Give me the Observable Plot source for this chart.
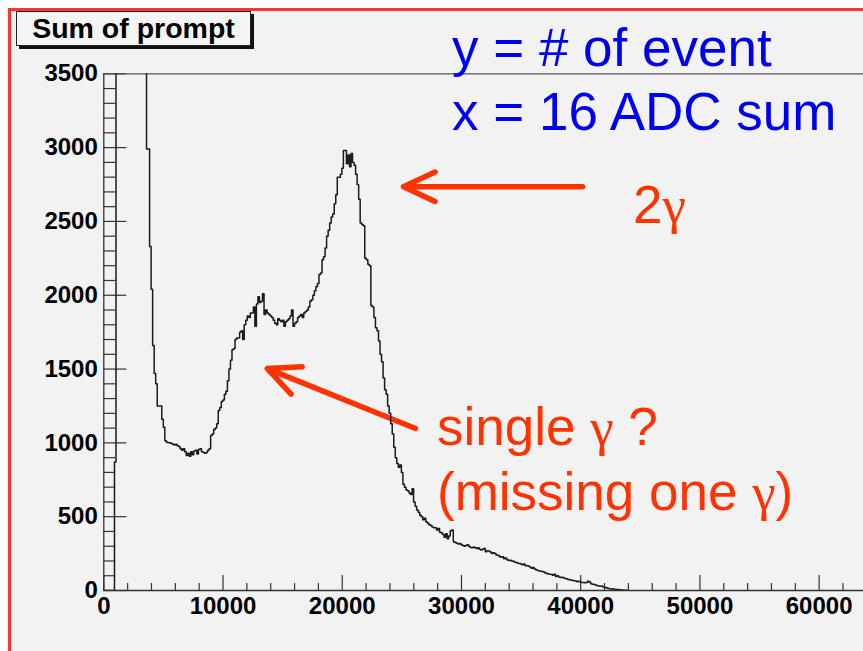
<!DOCTYPE html>
<html>
<head>
<meta charset="utf-8">
<script src="https://cdn.jsdelivr.net/npm/d3@7"></script>
<script src="https://cdn.jsdelivr.net/npm/@observablehq/plot@0.6"></script>
<style>
  html, body { margin: 0; padding: 0; background: #fff; overflow: hidden; }
  #page { position: relative; width: 863px; height: 651px; overflow: hidden; background: #fff; }
  #pad { position: absolute; left: 8px; top: 8px; width: 900px; height: 700px;
         background: #f2f2f2; border-left: 3px solid #ff3333; border-top: 3px solid #ff3333; }
  #chart { position: absolute; left: 0; top: 0; }
  #title { position: absolute; left: 16px; top: 11px; width: 233px; height: 33px;
           border: 1px solid #222; background: #f4f4f4; box-shadow: 3px 3px 0 #111;
           font: bold 28.5px "Liberation Sans", Arial, sans-serif; color: #000;
           display: flex; align-items: center; justify-content: center; line-height: 33px; }
  .note { position: absolute; white-space: nowrap; font-family: "Liberation Sans", Arial, sans-serif;
          font-size: 53px; line-height: 53px; }
  .blue { color: #0000f0; }
  .red { color: #ff3300; }
  .g { font-family: "Liberation Serif", "DejaVu Serif", serif; }
</style>
</head>
<body>
<div id="page">
  <div id="pad"></div>
  <div id="chart"></div>
  <div id="title">Sum of prompt</div>
  <div class="note blue" style="left:452px; top:21px;">y = # of event</div>
  <div class="note blue" style="left:452px; top:85px;">x = 16 ADC sum</div>
  <div class="note red" style="left:633px; top:178px;">2<span class="g">γ</span></div>
  <div class="note red" style="left:437px; top:400px;">single <span class="g">γ</span> ?</div>
  <div class="note red" style="left:437px; top:465px;">(missing one <span class="g">γ</span>)</div>
</div>
<script>
// Histogram "Sum of prompt": counts per 128-wide bin of the 16-channel ADC sum, starting at 0.
const binWidth = 128;
const counts = [
  0, 0, 0, 0, 0, 0, 0, 870,
  // bins above the 3500 ceiling (cut off at the top of the frame)
  5200, 9600, 12800, 14500, 13900, 12400, 10800, 9500, 8400, 7500,
  6800, 6200, 5700, 5200, 4800, 4500, 4200, 3950, 3750, 3600,
  2990, 2990, 2330, 2040, 1660, 1470, 1400, 1250, 1250, 1250, 1160, 1105, 1015, 1005, 1000,
  1000, 995, 990, 985, 990, 980, 975, 960, 950, 960, 940, 915, 930, 910, 940, 920, 945, 950,
  925, 955, 960, 940, 935, 930, 935, 950, 960,
  1050, 1060, 1090, 1100, 1130, 1220, 1240, 1280, 1290, 1330, 1350, 1420, 1500, 1560, 1630,
  1640, 1700, 1710, 1710, 1750,
  1760, 1700, 1800, 1830, 1860, 1850, 1880, 1880, 1920, 1790, 1940, 1990, 1950, 1960, 2010,
  1870, 1900, 1880,
  1870, 1860, 1850, 1830, 1810, 1800, 1840, 1830, 1820, 1830, 1790, 1820, 1830, 1840, 1860,
  1900, 1790, 1810, 1820, 1850, 1860, 1870, 1850, 1880, 1890, 1900, 1920, 1960, 1970, 2000,
  2030, 2060, 2080, 2140, 2150, 2240, 2260, 2320, 2400, 2440, 2490, 2530, 2550, 2620, 2680,
  2800, 2800, 2820, 2860, 2980, 2980, 2890, 2950, 2870, 2960, 2900, 2880, 2820, 2750, 2650,
  2490, 2480, 2470, 2250, 2240, 2210, 2200, 1930, 1920, 1850, 1780, 1760, 1690, 1600, 1550,
  1440, 1360, 1330, 1250, 1200, 1130, 1060, 970, 900, 860, 835,
  850, 800, 720, 700, 680, 675, 660, 650, 690, 600,
  570, 545, 530, 510, 500, 480, 490, 465, 455, 445,
  440, 430, 425, 425, 410, 420, 395, 390, 380, 360,
  385, 350, 370, 405, 410, 330, 325, 320, 315, 318,
  310, 305, 300, 305, 310, 300, 292, 290, 295, 290,
  285, 290, 280, 275, 280, 285, 262, 270, 268, 260,
  250, 255, 250, 240, 238, 230, 225, 228, 215, 220,
  208, 203, 205, 200, 198, 192, 190, 185, 183, 180,
  175, 180, 168, 170, 165, 160, 150, 155, 145, 140,
  135, 132, 130, 128, 125, 118, 115, 112, 110, 108,
  104, 110, 95, 100, 92, 88, 90, 85, 82, 80,
  75, 72, 70, 68, 66, 64, 60, 62, 58, 55,
  54, 52, 55, 62, 58, 45, 42, 40, 37, 33,
  30, 28, 30, 24, 20, 18, 15, 12, 10, 12,
  8, 7, 6, 6, 5, 4, 3, 2, 1, 0
];

// Axis ticks
const xMajor = [0, 10000, 20000, 30000, 40000, 50000, 60000];
const xMinor = d3.range(0, 64000, 2000).filter(v => v % 10000 !== 0);
const yMajor = [0, 500, 1000, 1500, 2000, 2500, 3000, 3500];
const yMinor = d3.range(0, 3500, 100).filter(v => v % 500 !== 0);

// Annotation arrows (tail -> tip) in data units
const arrowTailX = [40150, 26140];
const arrowTailY = [2735, 1097];
const arrowTipX  = [25136, 13713];
const arrowTipY  = [2735, 1503];

const hist = counts.map((n, i) => ({x: i * binWidth, n}));
hist.push({x: counts.length * binWidth, n: 0});

const arrows = arrowTailX.map((x1, i) => ({x1, y1: arrowTailY[i], x2: arrowTipX[i], y2: arrowTipY[i]}));

const W = 863, H = 651, mL = 103.3, mR = 0, mT = 73.3, mB = 61;
const frameW = W - mL - mR, frameH = H - mT - mB;
const axisColor = "#333";
const red = "#ff3300";

const chart = Plot.plot({
  width: W, height: H,
  marginLeft: mL, marginRight: mR, marginTop: mT, marginBottom: mB,
  x: {domain: [0, 63720], axis: null},
  y: {domain: [0, 3500], axis: null},
  style: {background: "transparent", overflow: "visible",
          fontFamily: "'Liberation Sans', Arial, sans-serif", color: "#000"},
  marks: [
    // inward ticks
    Plot.ruleX(xMinor, {x: d => d, insetTop: frameH - 7, stroke: axisColor, strokeWidth: 1.2}),
    Plot.ruleX(xMajor, {x: d => d, insetTop: frameH - 15, stroke: axisColor, strokeWidth: 1.2}),
    Plot.ruleY(yMinor, {y: d => d, insetRight: frameW - 12, stroke: axisColor, strokeWidth: 1.2}),
    Plot.ruleY(yMajor, {y: d => d, insetRight: frameW - 23, stroke: axisColor, strokeWidth: 1.2}),
    // frame lines
    Plot.ruleY([3500], {stroke: "#555", strokeWidth: 1.2}),
    Plot.ruleX([0], {stroke: axisColor, strokeWidth: 1.3}),
    // tick labels
    Plot.text(xMajor, {x: d => d, frameAnchor: "bottom", dy: 6, lineAnchor: "top",
      text: d => String(d), fontSize: 24, fontWeight: "bold", fill: "#000"}),
    Plot.text(yMajor, {y: d => d, frameAnchor: "left", dx: -6, textAnchor: "end",
      text: d => String(d), fontSize: 24, fontWeight: "bold", fill: "#000"}),
    // annotation arrows
    Plot.arrow(arrows, {x1: "x1", y1: "y1", x2: "x2", y2: "y2", stroke: red,
      strokeWidth: 5.5, headAngle: 50, headLength: 9.5, strokeLinecap: "round", strokeLinejoin: "round"}),
    // histogram outline
    Plot.line(hist, {x: "x", y: "n", curve: "step-after", clip: true, stroke: "#1a1a1a", strokeWidth: 1.5}),
    Plot.ruleY([0], {stroke: axisColor, strokeWidth: 1.5})
  ]
});
document.getElementById("chart").appendChild(chart);
</script>
</body>
</html>
